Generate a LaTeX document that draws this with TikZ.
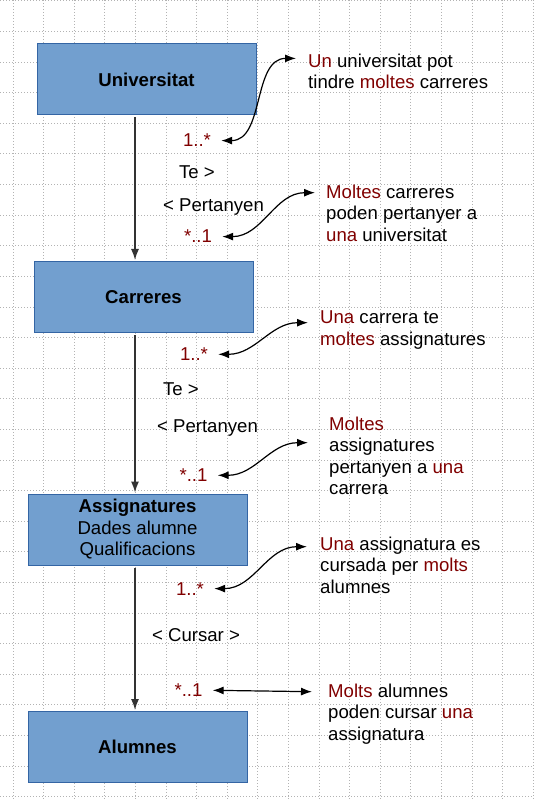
\documentclass[tikz,border=0pt]{standalone}
\usepackage{fontspec}
\setmainfont{Liberation Sans}
\usepackage{tikz}
\usetikzlibrary{arrows.meta}
\definecolor{boxfill}{HTML}{729FCF}
\definecolor{boxline}{HTML}{3465A4}
\definecolor{darkred}{HTML}{800000}
\definecolor{gridgray}{HTML}{B3B3B3}
\newcommand{\dr}[1]{\textcolor{darkred}{#1}}
\tikzset{
    x=1pt,
    y=-1pt,
    txt/.style = {
        font=\fontsize{18.6pt}{21.5pt}\selectfont
    },
    entity/.style = {
        txt,
        draw=boxline,
        fill=boxfill,
        shape=rectangle,
        minimum height=71pt,
        minimum width=219pt,
        line width=1pt,
        align=center
    },
    mult/.style = {
        txt,
        text=darkred,
        inner xsep=10pt,
        inner ysep=0pt,
        anchor=base
    },
    role/.style = {
        txt,
        anchor=base
    },
    note/.style = {
        txt,
        anchor=north west,
        inner sep=0pt,
        align=left
    },
    gridline/.style = {
        gridgray,
        line width=1pt,
        dash pattern=on 1pt off 2pt
    },
    link/.style = {
        black!80,
        line width=1.4pt,
        shorten <=2pt,
        shorten >=1pt
    },
    remark/.style = {
        black,
        line width=1.2pt
    },
    >={Latex[length=11pt,width=8pt]},
}
\begin{document}
\begin{tikzpicture}
                \useasboundingbox (0,0) rectangle (534,799);
                % background grid
                \foreach \k in {0,...,26}
                    \path[gridline, draw] (0,1+30.6*\k) -- (534,1+30.6*\k);
                \foreach \k in {0,...,17}
                    \path[gridline, draw] (13+30.6*\k,0) -- (13+30.6*\k,799);

                \node[entity] (univ) at (146.5,79.5) {\textbf{Universitat}};
                \node[entity] (carr) at (143.5,297) {\textbf{Carreres}};
                \node[entity] (assig) at (137.5,529.5) {\textbf{Assignatures}\\Dades alumne\\Qualificacions};
                \node[entity] (alum) at (137.5,747) {\textbf{Alumnes}};
                \coordinate (axis) at (135,0);

                \node[mult] (m1) at (197,147) {1..*};
                \node[role] (te1) at (197,179) {Te >};
                \node[role] (pert1) at (213.5,212) {< Pertanyen};
                \node[mult] (m2) at (198,243) {*..1};
                \node[mult] (m3) at (194,360.7) {1..*};
                \node[role] (te2) at (181,395.7) {Te >};
                \node[role] (pert2) at (207.5,432.3) {< Pertanyen};
                \node[mult] (m4) at (193.5,481.7) {*..1};
                \node[mult] (m5) at (190,595) {1..*};
                \node[role] (curs) at (196,641.7) {< Cursar >};
                \node[mult] (m6) at (188.5,696.7) {*..1};

                \node[note] (n1) at (308,53.4) {\dr{Un} universitat pot\\tindre \dr{moltes} carreres};
                \node[note] (n2) at (326,184.7) {\dr{Moltes} carreres\\poden pertanyer a\\\dr{una} universitat};
                \node[note] (n3) at (320,310.7) {\dr{Una} carrera te\\\dr{moltes} assignatures};
                \node[note] (n4) at (329,416.7) {\dr{Moltes}\\assignatures\\pertanyen a \dr{una}\\carrera};
                \node[note] (n5) at (320,536.7) {\dr{Una} assignatura es\\cursada per \dr{molts}\\alumnes};
                \node[note] (n6) at (328,683.7) {\dr{Molts} alumnes\\poden cursar \dr{una}\\assignatura};

                \path[link, draw, ->] (univ.south -| axis) -- (carr.north -| axis);
                \path[link, draw, ->] (carr.south -| axis) -- (assig.north -| axis);
                \path[link, draw, ->] (assig.south -| axis) -- (alum.north -| axis);

                \path[remark, draw, <->] (m1.east) to[out=0,in=180] ([xshift=-12pt,yshift=-5pt]n1.north west);
                \path[remark, draw, <->] (m2.east) to[out=0,in=180] ([xshift=-11pt,yshift=-8pt]n2.north west);
                \path[remark, draw, <->] (m3.east) to[out=0,in=180] ([xshift=-12pt,yshift=-12pt]n3.north west);
                \path[remark, draw, <->] (m4.east) to[out=0,in=180] ([xshift=-21pt,yshift=-26pt]n4.north west);
                \path[remark, draw, <->] (m5.east) to[out=0,in=180] ([xshift=-13pt,yshift=-10pt]n5.north west);
                \path[remark, draw, <->] (m6.east) -- ([xshift=-16pt,yshift=-8pt]n6.north west);
\end{tikzpicture}
\end{document}
